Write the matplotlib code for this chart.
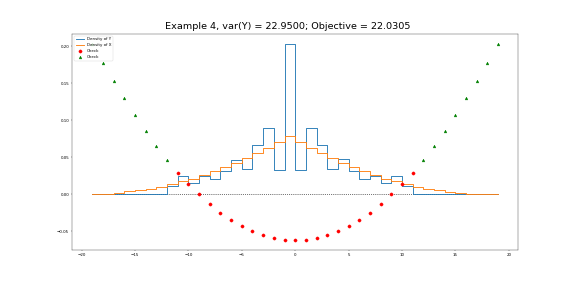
import matplotlib
matplotlib.use("Agg")
import matplotlib.pyplot as plt

# integer support of both distributions
support = list(range(-19, 20))

density_y = [
    0.0, 0.0, 0.0, 0.0, 0.0, 0.0, 0.0, 0.0,
    0.0108, 0.0248, 0.0158, 0.0243, 0.0212, 0.0310, 0.0469, 0.0347,
    0.0671, 0.0896, 0.0333, 0.2036, 0.0333, 0.0896, 0.0670, 0.0347,
    0.0470, 0.0310, 0.0210, 0.0243, 0.0158, 0.0248, 0.0108,
    0.0, 0.0, 0.0, 0.0, 0.0, 0.0, 0.0, 0.0,
]

density_x = [
    0.0, 0.0001, 0.0005, 0.0020, 0.0038, 0.0057, 0.0077, 0.0104,
    0.0135, 0.0178, 0.0212, 0.0266, 0.0310, 0.0369, 0.0428, 0.0491,
    0.0559, 0.0630, 0.0707, 0.0793, 0.0707, 0.0630, 0.0559, 0.0491,
    0.0428, 0.0369, 0.0310, 0.0266, 0.0212, 0.0172, 0.0135,
    0.0104, 0.0077, 0.0052, 0.0034, 0.0016, 0.0005, 0.0001, 0.0,
]

# check values inside the support of Y (red) and outside (green)
check_in_k = list(range(-11, 12))
check_in = [
    0.0293, 0.0135, 0.0, -0.0135, -0.0248, -0.0351, -0.0432, -0.0500,
    -0.0554, -0.0590, -0.0612, -0.0622, -0.0612, -0.0590, -0.0554, -0.0500,
    -0.0432, -0.0351, -0.0248, -0.0135, 0.0, 0.0135, 0.0293,
]

check_out_k = list(range(-19, -11)) + list(range(12, 20))
check_out = [
    0.2031, 0.1778, 0.1531, 0.1295, 0.1068, 0.0858, 0.0653, 0.0467,
    0.0467, 0.0653, 0.0858, 0.1068, 0.1295, 0.1531, 0.1778, 0.2031,
]

var_y = 22.95
objective = 22.0305

fig = plt.figure(figsize=(20, 9.757))
ax = fig.add_subplot(111)

ax.plot(support, [0] * len(support), "k:", lw=1.8)
ax.step(support, density_y, lw=2.2, label="Density of Y")
ax.step(support, density_x, lw=2.2, label="Density of X")
ax.plot(check_in_k, check_in, "ro", ms=8, label="Check")
ax.plot(check_out_k, check_out, "g^", ms=7, label="Check")

fig.suptitle(f"Example 4, var(Y) = {var_y:.4f}; Objective = {objective:.4f}",
             x=0.5, y=0.898, va="baseline", fontsize=24)
ax.legend(loc="upper left")

fig.savefig("out.png", dpi=28.8)
